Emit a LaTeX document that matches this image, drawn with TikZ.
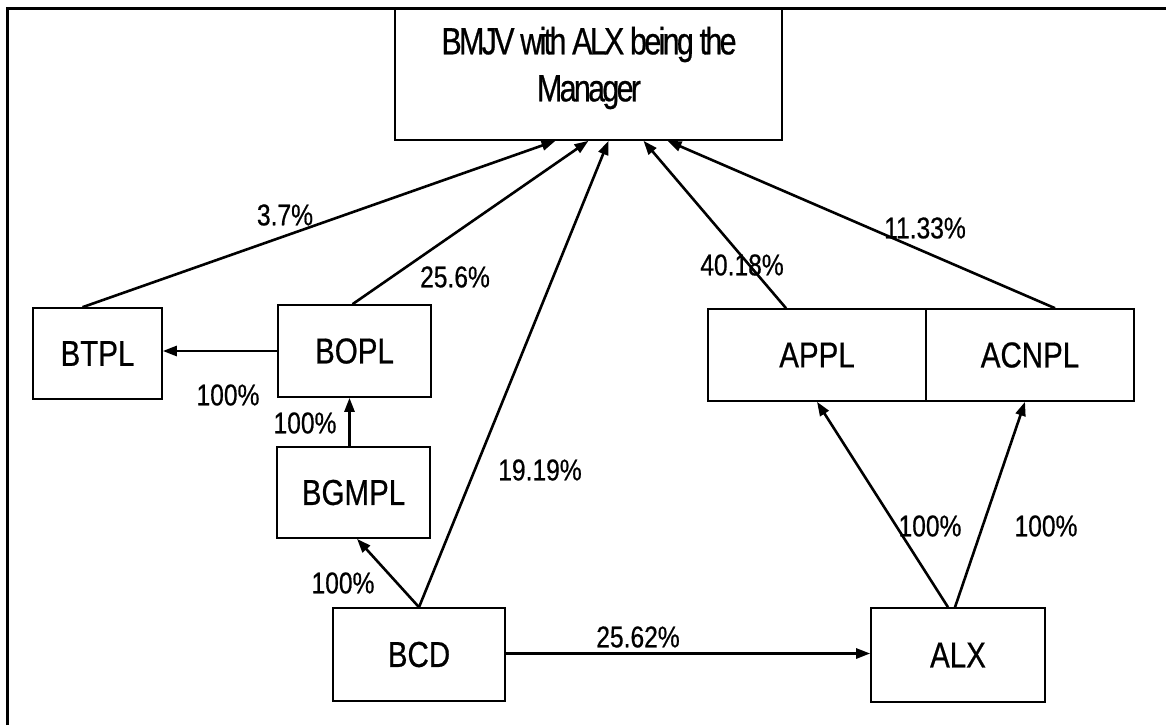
\documentclass[tikz,border=0pt]{standalone}
\usepackage{fontspec}
\setmainfont{Liberation Sans}[FakeStretch=0.82, FakeBold=0.6]
\newfontfamily\titlefont{Liberation Sans}[FakeStretch=0.8, LetterSpace=-7, FakeBold=0.6]
\usetikzlibrary{arrows.meta}
\tikzset{
  firm/.style={draw, line width=1.6pt, inner sep=0pt, font=\fontsize{36}{47}\selectfont},
  share/.style={font=\fontsize{30}{32}\selectfont, inner sep=0pt},
  own/.style={->, line width=2.6pt}
}
\begin{document}
\begin{tikzpicture}[x=1pt, y=-1pt, >={Triangle[length=14pt,width=10pt]}]
\useasboundingbox (0,0) rectangle (1166,725);
\draw[line width=3pt](7.5,725)--(7.5,9)--(1166,9);
% firms
\node[firm, minimum width=387pt, minimum height=131pt] (bmjv) at (588.5,74.5) {};
\node[inner sep=0pt, align=center, font=\titlefont\fontsize{38}{47}\selectfont] (title) at (589,68) {BMJV with ALX being the\\Manager};
\node[firm, minimum width=129pt, minimum height=91pt] (btpl) at (97.5,353.5) {BTPL};
\node[firm, minimum width=153pt, minimum height=92pt] (bopl) at (354.5,351) {BOPL};
\node[firm, minimum width=153pt, minimum height=91pt] (bgmpl) at (353.5,492.5) {BGMPL};
\node[firm, minimum width=172pt, minimum height=93pt] (bcd) at (419,654.5) {BCD};
\node[firm, minimum width=174pt, minimum height=94pt] (alx) at (958,655) {ALX};
\node[firm, minimum width=218pt, minimum height=92pt] (appl) at (817,355) {APPL};
\node[firm, minimum width=208pt, minimum height=92pt] (acnpl) at (1030,355) {ACNPL};
% holdings
\draw[own]([xshift=-15pt]btpl.north)--([xshift=-33pt]bmjv.south);
\draw[own]([xshift=-2pt]bopl.north)--(bmjv.south);
\draw[own](bcd.north)--([xshift=20pt]bmjv.south);
\draw[own]([xshift=-31pt]appl.north)--([xshift=55pt]bmjv.south);
\draw[own]([xshift=25pt]acnpl.north)--([xshift=79pt]bmjv.south);
\draw[own](bopl.west)--(bopl.west -| btpl.east);
\draw[own]([xshift=-4pt]bgmpl.north)--([xshift=-4pt]bgmpl.north |- bopl.south);
\draw[own](bcd.north)--([xshift=3.5pt]bgmpl.south);
\draw[own]([yshift=1pt]bcd.east)--([yshift=1pt]bcd.east -| alx.west);
\draw[own]([xshift=-10pt]alx.north)--(appl.south);
\draw[own]([xshift=-3pt]alx.north)--([xshift=-5pt]acnpl.south);
% percentages
\node[share] (p1) at (285,215) {3.7\%};
\node[share] (p2) at (455,277) {25.6\%};
\node[share] (p3) at (540,470) {19.19\%};
\node[share] (p4) at (742,265) {40.18\%};
\node[share] (p5) at (925,228) {11.33\%};
\node[share] (p6) at (228,395) {100\%};
\node[share] (p7) at (305,423) {100\%};
\node[share] (p8) at (343,583) {100\%};
\node[share] (p9) at (638,637) {25.62\%};
\node[share] (p10) at (930,526) {100\%};
\node[share] (p11) at (1046,526) {100\%};
\end{tikzpicture}
\end{document}
